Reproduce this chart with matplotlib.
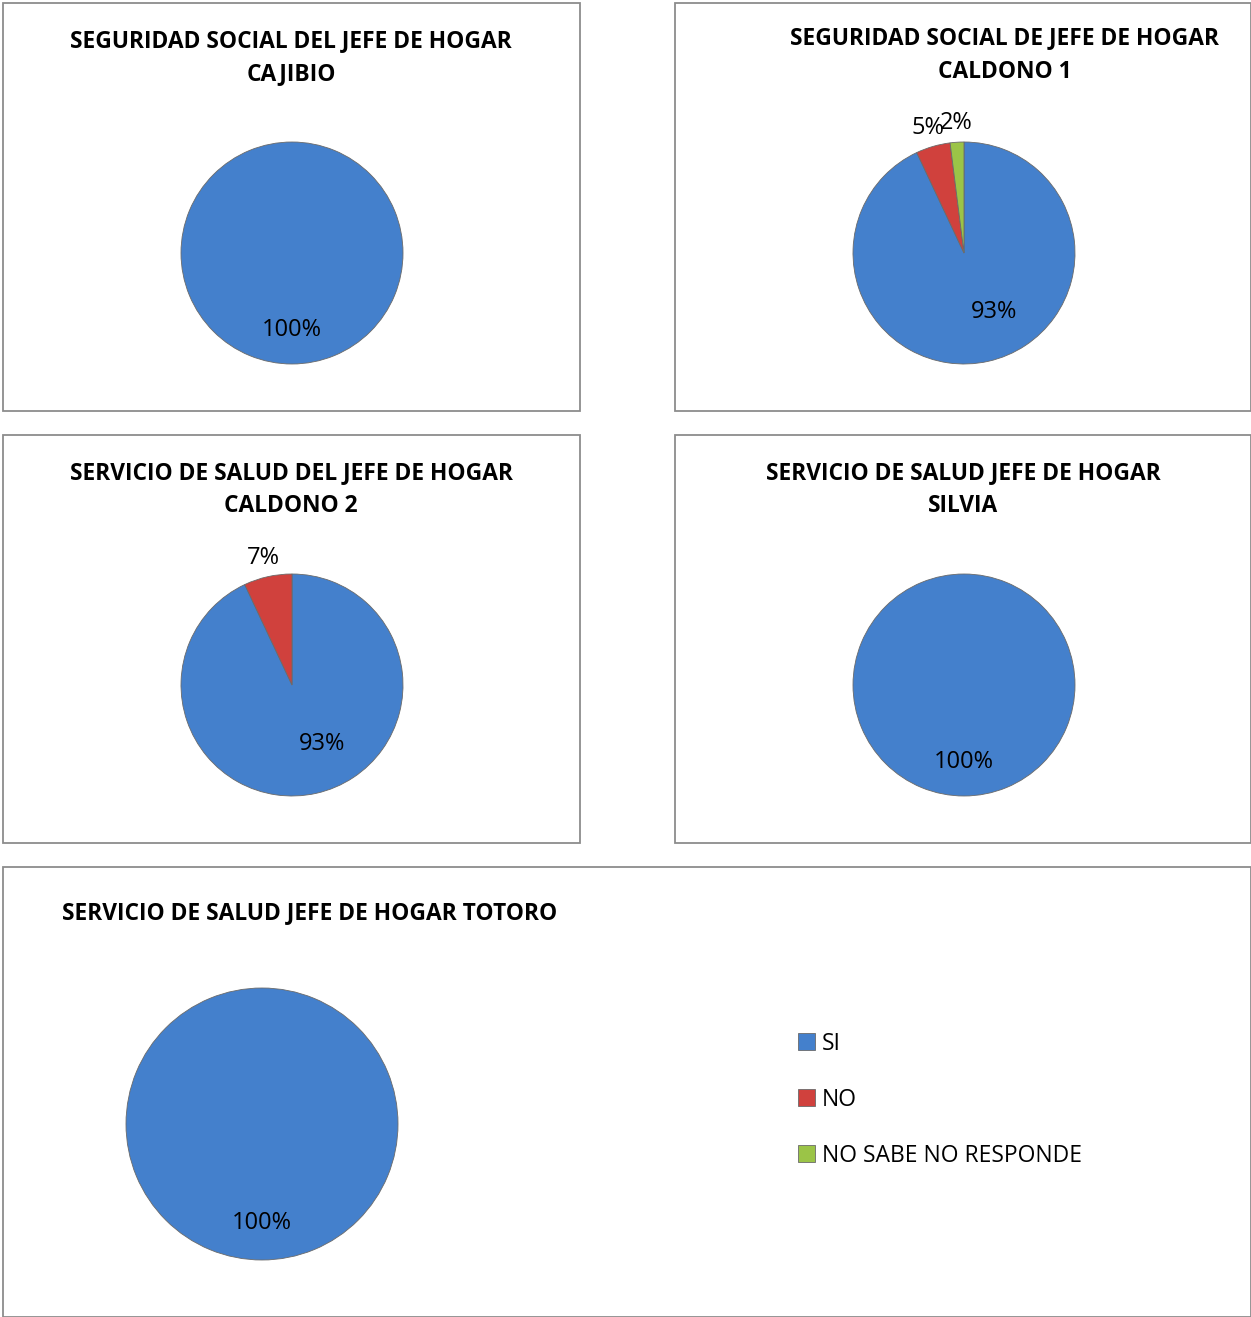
import matplotlib.pyplot as plt
import numpy as np
from matplotlib.patches import Rectangle

# datos (porcentajes) - SI, NO, NO SABE NO RESPONDE
categorias = ['SI', 'NO', 'NO SABE NO RESPONDE']
cajibio = [100, 0, 0]
caldono1 = [93, 5, 2]
caldono2 = [93, 7, 0]
silvia = [100, 0, 0]
totoro = [100, 0, 0]

titulos = [
    'SEGURIDAD SOCIAL DEL JEFE DE HOGAR\nCAJIBIO',
    'SEGURIDAD SOCIAL DE JEFE DE HOGAR\nCALDONO 1',
    'SERVICIO DE SALUD DEL JEFE DE HOGAR\nCALDONO 2',
    'SERVICIO DE SALUD JEFE DE HOGAR\nSILVIA',
    'SERVICIO DE SALUD JEFE DE HOGAR TOTORO',
]
colores = ['#4480cc', '#d0413d', '#9bc447']

W, H = 1251, 1317
fig = plt.figure(figsize=(W / 100, H / 100), dpi=100)
plt.rcParams['font.family'] = ['Open Sans', 'DejaVu Sans']


def caja(x0, y0, x1, y1):
    # marco del grafico en pixeles (origen arriba a la izquierda)
    fig.patches.append(Rectangle((x0 / W, 1 - y1 / H), (x1 - x0) / W, (y1 - y0) / H,
                                 transform=fig.transFigure, fill=False,
                                 edgecolor='#8c8c8c', linewidth=1.3))


def torta(valores, cx, cy, r, titulo, tx, ty, d100=0.69):
    ax = fig.add_axes([(cx - r - 2) / W, 1 - (cy + r + 2) / H, (2 * r + 4) / W, (2 * r + 4) / H])
    vals = [v for v in valores if v > 0]
    cols = [c for v, c in zip(valores, colores) if v > 0]
    cuñas, _ = ax.pie(vals, colors=cols, startangle=90, counterclock=False, radius=1,
                      wedgeprops=dict(edgecolor='#6a6a6a', linewidth=0.6))
    lim = (r + 2) / r
    ax.set_xlim(-lim, lim)
    ax.set_ylim(-lim, lim)
    ax.set_aspect('equal')
    ax.axis('off')
    total = sum(vals)
    acum = 0
    for i, v in enumerate(vals):
        medio = 90 - (acum + v / 2) / total * 360
        acum += v
        if v == total:
            d, ang = d100, -90
        elif i == 0:
            d, ang = 0.6, -63
        else:
            d, ang = 1.17, medio
        ax.text(d * np.cos(np.radians(ang)), d * np.sin(np.radians(ang)), f'{v}%',
                ha='center', va='center', fontsize=17, clip_on=False)
    fig.text(tx / W, 1 - ty / H, titulo, ha='center', va='center', fontsize=16.4,
             fontweight='bold', linespacing=1.5)
    return cuñas


caja(3, 3, 580, 411)
caja(675, 3, 1251, 411)
caja(3, 435, 580, 843)
caja(675, 435, 1251, 843)
caja(3, 867, 1251, 1317)

torta(cajibio, 292, 253, 111, titulos[0], 291, 58)
cuñas = torta(caldono1, 964, 253, 111, titulos[1], 1005, 55)
torta(caldono2, 292, 685, 111, titulos[2], 291, 490)
torta(silvia, 964, 685, 111, titulos[3], 963, 490)
torta(totoro, 262, 1124, 136, titulos[4], 310, 913, d100=0.73)

# leyenda
fig.legend(cuñas, categorias, loc='upper left',
           bbox_to_anchor=(777 / W, 1 - 1011 / H), frameon=False, fontsize=16.5,
           handlelength=0.75, handleheight=0.75, handletextpad=0.3, labelspacing=1.4)

plt.savefig('out.png', dpi=100)
